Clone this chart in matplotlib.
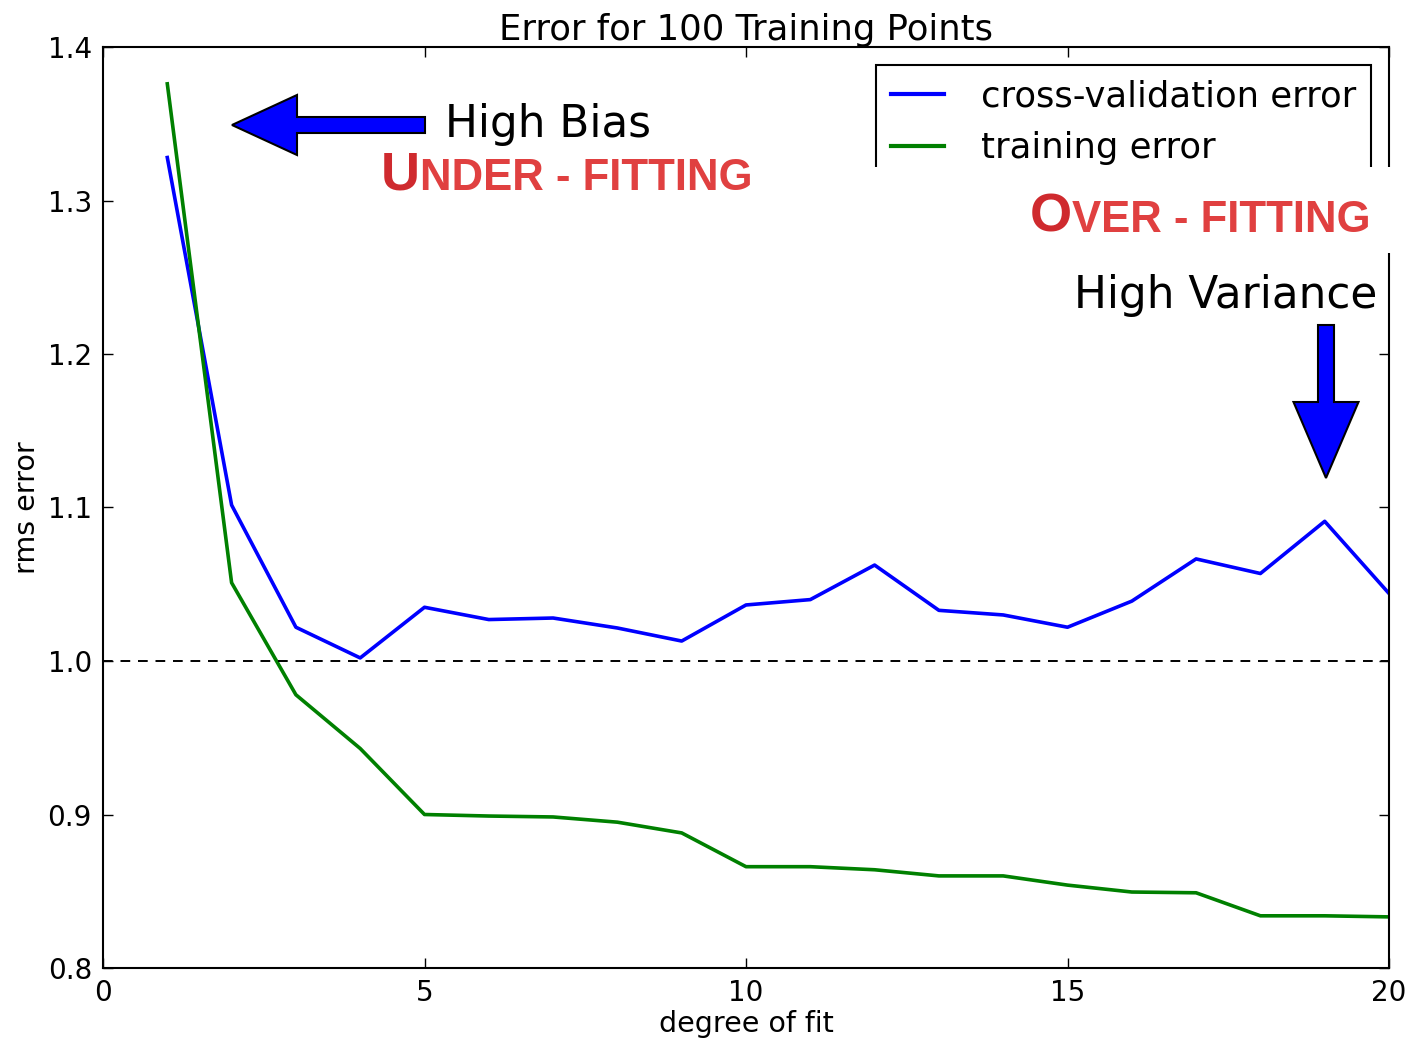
import matplotlib
matplotlib.use("Agg")
import matplotlib.pyplot as plt
from matplotlib.patches import FancyArrow, Rectangle

degree = list(range(1, 21))
cv_error = [1.328, 1.1016, 1.022, 1.002, 1.035, 1.027, 1.028, 1.0215, 1.013, 1.0365,
            1.040, 1.0625, 1.033, 1.030, 1.022, 1.039, 1.0665, 1.057, 1.091, 1.044]
train_error = [1.376, 1.051, 0.978, 0.943, 0.900, 0.899, 0.8984, 0.895, 0.888, 0.866,
               0.866, 0.864, 0.860, 0.860, 0.854, 0.8495, 0.849, 0.834, 0.834, 0.8333]
xticks = [0, 5, 10, 15, 20]
yticks = [0.8, 0.9, 1.0, 1.1, 1.2, 1.3, 1.4]

W, H = 1408, 1039
fig = plt.figure(figsize=(W / 100, H / 100), dpi=100)
ax = fig.add_axes([103 / W, (H - 968) / H, (1389 - 103) / W, (968 - 47) / H])

ax.plot(degree, cv_error, color='#0000ff', lw=2.6, label='cross-validation error')
ax.plot(degree, train_error, color='#008000', lw=2.6, label='training error')
ax.axhline(1.0, color='black', lw=1.4, ls=(0, (5, 4)))

ax.set_xlim(0, 20)
ax.set_ylim(0.8, 1.4)
ax.set_xticks(xticks)
ax.set_yticks(yticks)
ax.set_xticklabels([str(t) for t in xticks])
ax.set_yticklabels([f"{t:.1f}" for t in yticks])
ax.tick_params(direction='in', length=7, width=1.0, labelsize=20, top=True, right=True,
               colors='black', pad=8)
for s in ax.spines.values():
    s.set_linewidth(1.5)

ax.set_title('Error for 100 Training Points', fontsize=25.5, pad=5)
ax.set_xlabel('degree of fit', fontsize=20.5, labelpad=2)
ax.set_ylabel('rms error', fontsize=20.5, labelpad=4.5)

leg = ax.legend(loc='upper right', fontsize=25.5, fancybox=False, edgecolor='black',
                framealpha=1, handlelength=1.5, handletextpad=1.05, labelspacing=0.5,
                borderaxespad=0.5, borderpad=0.42)
leg.get_frame().set_linewidth(1.5)
for line in leg.get_lines():
    line.set_linewidth(3.0)

# white cover patch (pasted over legend bottom / spine in the original)
fig.patches.append(Rectangle((862 / 100, (H - 253) / 100), (1400 - 862) / 100, (253 - 167) / 100,
                             transform=fig.dpi_scale_trans, facecolor='white',
                             edgecolor='none', zorder=10))

# arrows (pixel positions converted to inches)
def px(x, y):
    return x / 100, (H - y) / 100

x0, y0 = px(425, 125)
fig.patches.append(FancyArrow(x0, y0, -(425 - 232) / 100, 0, width=0.16, head_width=0.60,
                              head_length=0.65, length_includes_head=True,
                              transform=fig.dpi_scale_trans, facecolor='#0000ff',
                              edgecolor='black', lw=1.5, zorder=11))
x1, y1 = px(1326, 325)
fig.patches.append(FancyArrow(x1, y1, 0, -(478 - 325) / 100, width=0.16, head_width=0.65,
                              head_length=0.76, length_includes_head=True,
                              transform=fig.dpi_scale_trans, facecolor='#0000ff',
                              edgecolor='black', lw=1.5, zorder=11))

fig.text(445 / W, (H - 137) / H, 'High Bias', fontsize=31.5, color='black',
         ha='left', va='baseline', zorder=12)
fig.text(1377 / W, (H - 308) / H, 'High Variance', fontsize=31.5, color='black',
         ha='right', va='baseline', zorder=12)

dark_red = '#cf2a2e'
light_red = '#e04040'
def smallcaps(x_px, y_px, first, rest):
    t1 = fig.text(x_px / W, (H - y_px) / H, first, fontsize=39, fontweight='bold',
                  family='Liberation Sans', color=dark_red, ha='left', va='baseline', zorder=12)
    fig.canvas.draw()
    bb = t1.get_window_extent()
    fig.text(bb.x1 / W, (H - y_px) / H, rest, fontsize=31.5, fontweight='bold',
             family='Liberation Sans', color=light_red, ha='left', va='baseline', zorder=12)

smallcaps(381, 190, 'U', 'NDER - FITTING')
smallcaps(1030, 232, 'O', 'VER - FITTING')

fig.savefig('out.png', dpi=100)
